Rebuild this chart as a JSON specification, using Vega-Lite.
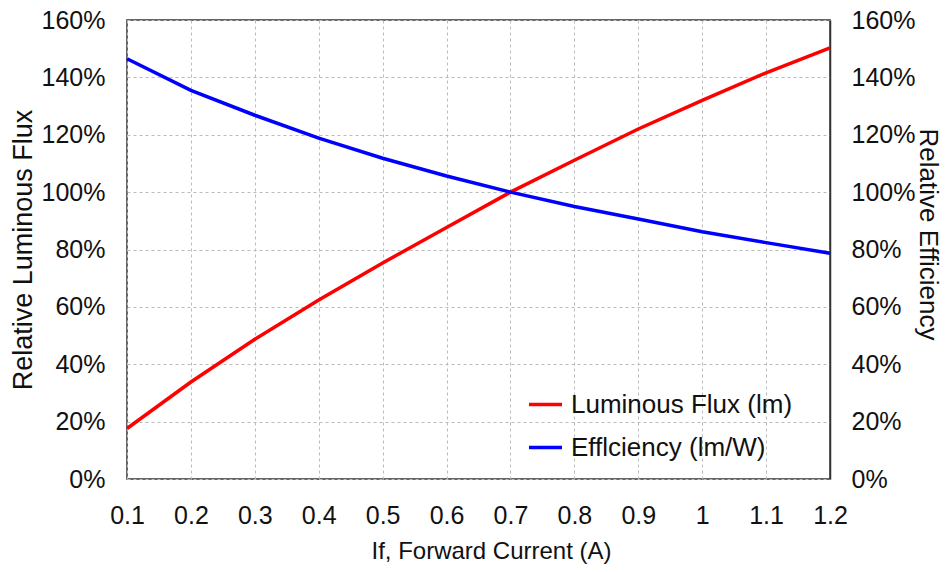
{
  "$schema": "https://vega.github.io/schema/vega-lite/v6.json",
  "width": 703,
  "height": 459,
  "autosize": "none",
  "padding": {"left": 127, "top": 20, "right": 118, "bottom": 93},
  "background": "white",
  "config": {
    "font": "Liberation Sans",
    "view": {"stroke": "#333", "strokeWidth": 1.5},
    "axis": {
      "labelFont": "Liberation Sans",
      "titleFont": "Liberation Sans",
      "labelFontSize": 25,
      "titleFontSize": 25,
      "titleFontWeight": "normal",
      "labelColor": "#111",
      "titleColor": "#111",
      "ticks": false,
      "domain": false,
      "gridColor": "#bbbbbb",
      "gridDash": [3, 3],
      "gridWidth": 1
    }
  },
  "data": {
    "values": [
      {"x": 0.1, "series": "Luminous Flux (lm)", "v": 0.176},
      {"x": 0.2, "series": "Luminous Flux (lm)", "v": 0.338},
      {"x": 0.3, "series": "Luminous Flux (lm)", "v": 0.487},
      {"x": 0.4, "series": "Luminous Flux (lm)", "v": 0.624},
      {"x": 0.5, "series": "Luminous Flux (lm)", "v": 0.753},
      {"x": 0.6, "series": "Luminous Flux (lm)", "v": 0.877},
      {"x": 0.7, "series": "Luminous Flux (lm)", "v": 1.0},
      {"x": 0.8, "series": "Luminous Flux (lm)", "v": 1.111},
      {"x": 0.9, "series": "Luminous Flux (lm)", "v": 1.22},
      {"x": 1.0, "series": "Luminous Flux (lm)", "v": 1.32},
      {"x": 1.1, "series": "Luminous Flux (lm)", "v": 1.416},
      {"x": 1.2, "series": "Luminous Flux (lm)", "v": 1.503},
      {"x": 0.1, "series": "Efflciency (lm/W)", "v": 1.465},
      {"x": 0.2, "series": "Efflciency (lm/W)", "v": 1.355},
      {"x": 0.3, "series": "Efflciency (lm/W)", "v": 1.268},
      {"x": 0.4, "series": "Efflciency (lm/W)", "v": 1.188},
      {"x": 0.5, "series": "Efflciency (lm/W)", "v": 1.118},
      {"x": 0.6, "series": "Efflciency (lm/W)", "v": 1.056},
      {"x": 0.7, "series": "Efflciency (lm/W)", "v": 1.0},
      {"x": 0.8, "series": "Efflciency (lm/W)", "v": 0.95},
      {"x": 0.9, "series": "Efflciency (lm/W)", "v": 0.906},
      {"x": 1.0, "series": "Efflciency (lm/W)", "v": 0.862},
      {"x": 1.1, "series": "Efflciency (lm/W)", "v": 0.824},
      {"x": 1.2, "series": "Efflciency (lm/W)", "v": 0.787}
    ]
  },
  "encoding": {
    "x": {
      "field": "x",
      "type": "quantitative",
      "scale": {"domain": [0.1, 1.2], "nice": false, "zero": false},
      "axis": {
        "values": [0.1, 0.2, 0.3, 0.4, 0.5, 0.6, 0.7, 0.8, 0.9, 1.0, 1.1, 1.2],
        "format": "~g",
        "labelPadding": 24,
        "titlePadding": 11,
        "titleFontSize": 24,
        "titleX": 364,
        "title": "If, Forward Current (A)",
        "labelFlush": false
      }
    },
    "color": {
      "field": "series",
      "type": "nominal",
      "scale": {"domain": ["Luminous Flux (lm)", "Efflciency (lm/W)"], "range": ["#ff0000", "#0000ff"]},
      "legend": {
        "title": null,
        "orient": "none",
        "legendX": 400,
        "legendY": 366,
        "symbolType": "stroke",
        "symbolSize": 1089,
        "symbolStrokeWidth": 3.5,
        "labelFontSize": 26,
        "labelFont": "Liberation Sans",
        "labelColor": "#111",
        "labelLimit": 500,
        "rowPadding": 11,
        "labelOffset": 7,
        "padding": 0
      }
    }
  },
  "layer": [
    {
      "transform": [{"filter": "datum.series === 'Luminous Flux (lm)'"}],
      "mark": {"type": "line", "strokeWidth": 3.5},
      "encoding": {
        "y": {
          "field": "v",
          "type": "quantitative",
          "scale": {"domain": [0, 1.6], "nice": false},
          "axis": {
            "orient": "left",
            "values": [0, 0.2, 0.4, 0.6, 0.8, 1.0, 1.2, 1.4, 1.6],
            "format": ".0%",
            "labelPadding": 22,
            "titlePadding": 4,
            "titleFontSize": 27,
            "title": "Relative Luminous Flux"
          }
        }
      }
    },
    {
      "transform": [{"filter": "datum.series === 'Efflciency (lm/W)'"}],
      "mark": {"type": "line", "strokeWidth": 3.5},
      "encoding": {
        "y": {
          "field": "v",
          "type": "quantitative",
          "scale": {"domain": [0, 1.6], "nice": false},
          "axis": {
            "orient": "right",
            "values": [0, 0.2, 0.4, 0.6, 0.8, 1.0, 1.2, 1.4, 1.6],
            "format": ".0%",
            "labelPadding": 21,
            "titlePadding": 0,
            "titleFontSize": 26,
            "titleY": 214,
            "grid": false,
            "title": "Relative Efficiency",
            "domain": true,
            "domainColor": "#333",
            "domainWidth": 1.5
          }
        }
      }
    }
  ],
  "resolve": {"scale": {"y": "independent"}}
}
